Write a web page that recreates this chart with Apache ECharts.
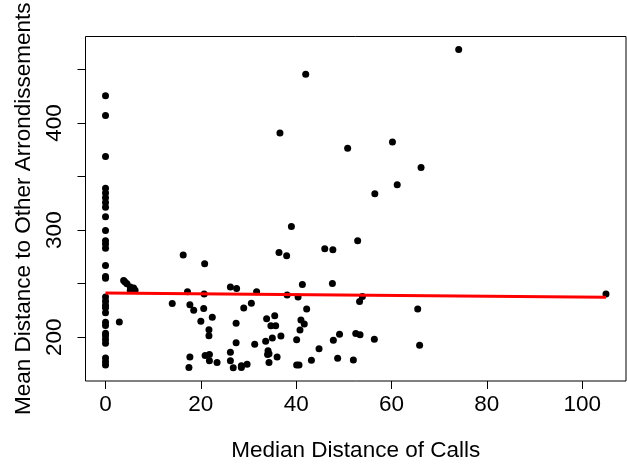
<!DOCTYPE html>
<html>
<head>
<meta charset="utf-8">
<script src="https://cdn.jsdelivr.net/npm/echarts@6/dist/echarts.min.js"></script>
<style>
  html, body { margin: 0; padding: 0; background: #fff; }
  #chart { width: 627px; height: 467px; }
</style>
</head>
<body>
<div id="chart"></div>
<script>
// Median call distance (x) vs mean distance to the other arrondissements (y)
const medianDist = [
  0, 0, 0, 0, 0, 0, 0, 0, 0, 0,
  0, 0, 0, 0, 0, 0, 0, 0, 0, 0,
  0, 0, 0, 0, 0, 0, 0, 0, 0, 0,
  2.9, 3.8, 4.1, 4.5, 5.2, 5.9, 6.2, 5.5, 5.2,
  16.3, 20.8, 36.4, 38.0, 46.0, 47.7, 52.9,
  17.2, 20.7, 26.2, 27.5, 31.7, 38.1, 40.4, 41.3, 47.6, 53.9, 53.3,
  14.0, 17.7, 18.5, 20.6, 22.4, 20.0, 21.7, 21.7,
  30.6, 29.0, 27.4, 27.4, 26.2, 26.2, 26.8, 28.5, 28.5, 29.7,
  20.9, 21.8, 21.8, 23.4, 17.7, 17.5,
  31.3, 33.8, 35.5, 34.7, 35.7, 35.0, 36.8, 33.6,
  34.1, 34.3, 34.0, 36.0, 34.3, 40.1, 40.6, 43.2, 44.8,
  40.1, 40.8, 41.0, 41.7, 42.2, 47.8, 49.1, 52.5, 53.4,
  48.7, 52.0, 56.4,
  74.1, 42.0, 36.6, 50.8, 60.2, 66.2, 61.2, 56.5, 39.0,
  105.0, 65.5, 65.9
];
const meanDist = [
  425.4, 406.9, 368.8, 339.1, 334.7, 330.2, 325.8, 321.3, 312.4, 299.6,
  290.1, 287.1, 283.2, 266.9, 256.8, 255.0, 237.7, 233.6, 230.0, 227.6,
  222.9, 214.0, 211.0, 203.8, 201.5, 198.0, 194.4, 180.6, 177.1, 174.1,
  214.2, 252.9, 251.5, 250.0, 247.0, 246.1, 244.0, 244.0, 244.0,
  276.7, 268.7, 279.1, 276.1, 282.7, 281.8, 290.1,
  242.5, 240.4, 247.0, 245.5, 242.5, 239.5, 237.5, 249.3, 250.2, 238.1, 233.3,
  231.5, 230.3, 225.2, 226.8, 218.7, 214.9, 207.1, 201.5,
  231.8, 227.4, 213.1, 194.9, 186.0, 178.0, 171.5, 171.7, 173.5, 174.8,
  183.1, 183.9, 178.0, 176.5, 181.5, 171.7,
  193.5, 217.2, 220.2, 210.7, 210.7, 199.4, 201.2, 196.4,
  187.5, 184.6, 183.9, 181.5, 176.5, 174.1, 174.1, 178.6, 189.3,
  197.6, 206.9, 216.1, 212.5, 226.5, 197.3, 202.9, 203.6, 202.4,
  180.4, 178.9, 198.2,
  468.5, 445.5, 390.6, 376.3, 382.2, 358.5, 342.4, 334.0, 303.5,
  240.4, 226.5, 192.6
];

// Fitted linear trend, endpoints over the observed x range
const fitX = [0, 105];
const fitY = [241.3, 237.3];

// Axis ticks and labels
const xTicks = [0, 20, 40, 60, 80, 100];
const yTicks = [200, 250, 300, 350, 400, 450];
const yLabels = [200, 300, 400];

const points = medianDist.map((x, i) => [x, meanDist[i]]);
const fitLine = fitX.map((x, i) => [x, fitY[i]]);

const FONT = '"Liberation Sans", Arial, Helvetica, sans-serif';
const FS = 22.5;

const chart = echarts.init(document.getElementById('chart'), null, { renderer: 'canvas' });
chart.setOption({
  animation: false,
  backgroundColor: '#ffffff',
  grid: {
    show: true,
    left: 85.5,
    top: 36.5,
    width: 540.5,
    height: 360,
    borderColor: '#000000',
    borderWidth: 1,
    backgroundColor: 'transparent'
  },
  xAxis: {
    type: 'value',
    min: -4.2,
    max: 109.2,
    name: 'Median Distance of Calls',
    nameLocation: 'middle',
    nameGap: 58,
    nameTextStyle: { fontFamily: FONT, fontSize: FS, color: '#000' },
    axisLine: { show: false, onZero: false },
    splitLine: { show: false },
    axisTick: {
      show: true, inside: false, length: 8,
      customValues: xTicks,
      lineStyle: { color: '#000', width: 1 }
    },
    axisLabel: {
      show: true, margin: 12,
      customValues: xTicks,
      fontFamily: FONT, fontSize: FS, color: '#000'
    }
  },
  yAxis: {
    type: 'value',
    min: 159.2,
    max: 480.7,
    name: 'Mean Distance to Other Arrondissements',
    nameLocation: 'middle',
    nameRotate: 90,
    nameGap: 45,
    nameTextStyle: { fontFamily: FONT, fontSize: FS, color: '#000' },
    axisLine: { show: false, onZero: false },
    splitLine: { show: false },
    axisTick: {
      show: true, inside: false, length: 8,
      customValues: yTicks,
      lineStyle: { color: '#000', width: 1 }
    },
    axisLabel: {
      show: true, margin: 19, rotate: 90,
      customValues: yLabels,
      fontFamily: FONT, fontSize: FS, color: '#000'
    }
  },
  series: [
    {
      type: 'scatter',
      data: points,
      symbol: 'circle',
      symbolSize: 7,
      itemStyle: { color: '#000000', opacity: 1 },
      z: 2
    },
    {
      type: 'line',
      data: fitLine,
      showSymbol: false,
      lineStyle: { color: '#ff0000', width: 3 },
      z: 3
    }
  ]
});
</script>
</body>
</html>
